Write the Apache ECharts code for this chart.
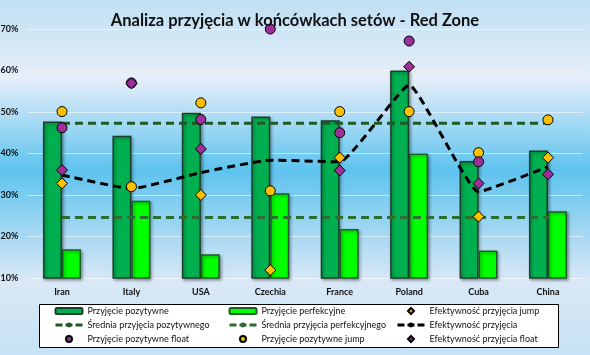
<!DOCTYPE html>
<html>
<head>
<meta charset="utf-8">
<script src="https://cdn.jsdelivr.net/npm/echarts@6/dist/echarts.min.js"></script>
<style>html,body{margin:0;padding:0;}#c{width:590px;height:355px;}</style>
</head>
<body>
<div id="c"></div>
<script>
const categories = ['Iran', 'Italy', 'USA', 'Czechia', 'France', 'Poland', 'Cuba', 'China'];
const yTicks = [10, 20, 30, 40, 50, 60, 70];
const positive = [47.7, 44.3, 49.8, 48.9, 48.0, 60.0, 38.2, 40.7];
const perfect = [16.9, 28.6, 15.7, 30.4, 21.8, 40.0, 16.6, 26.1];
const avgPositive = [47.3, 47.3, 47.3, 47.3, 47.3, 47.3, 47.3, 47.3];
const avgPerfect = [24.6, 24.6, 24.6, 24.6, 24.6, 24.6, 24.6, 24.6];
const efficiency = [34.8, 31.5, 35.4, 38.4, 38.0, 56.5, 30.8, 36.8];
const effJump = [32.8, null, 30.0, 11.9, 39.0, null, 24.8, 39.0];
const posJump = [50.1, 32.0, 52.2, 31.0, 50.1, 50.1, 40.2, 48.1];
const posFloat = [46.2, 57.0, 48.2, 70.0, 45.0, 67.1, 38.0, null];
const effFloat = [36.0, 56.9, 41.1, 70.2, 35.9, 60.9, 32.8, 35.0];

const FONT = 'Lato';
const DIAMOND = 'path://M5,0 L10,5 L5,10 L0,5 Z';
const chart = echarts.init(document.getElementById('c'));
const legendText = { fontFamily: FONT, fontSize: 9, color: '#111', lineHeight: 11 };
const legendBase = {
  orient: 'vertical', top: 305.5, itemWidth: 27, itemHeight: 6, itemGap: 3,
  selectedMode: false, textStyle: legendText, padding: 0, symbolKeepAspect: true,
  lineStyle: { width: 3, type: [7, 3] }
};
chart.setOption({
  animation: false,
  backgroundColor: {
    type: 'linear', x: 0, y: 0, x2: 0, y2: 1,
    colorStops: [
      { offset: 0, color: '#bfe0f3' },
      { offset: 0.22, color: '#e6eef9' },
      { offset: 0.48, color: '#5ec3ee' },
      { offset: 0.79, color: '#d9e8f6' },
      { offset: 1, color: '#c6e2f4' }
    ]
  },
  title: {
    text: 'Analiza przyjęcia w końcówkach setów - Red Zone',
    left: 'center', top: 7,
    textStyle: { fontFamily: FONT, fontWeight: 'bold', fontSize: 16.5, color: '#111' }
  },
  graphic: [{
    type: 'rect', z: 0,
    shape: { x: 39.5, y: 304.5, width: 519, height: 43 },
    style: { fill: '#ffffff', stroke: '#000000', lineWidth: 1 }
  }],
  legend: [
    Object.assign({}, legendBase, { left: 54, data: ['Przyjęcie pozytywne', 'Średnia przyjęcia pozytywnego', { name: 'Przyjęcie pozytywne float', icon: 'circle' }] }),
    Object.assign({}, legendBase, { left: 228, data: ['Przyjęcie perfekcyjne', 'Średnia przyjęcia perfekcyjnego', { name: 'Przyjęcie pozytywne jump', icon: 'circle' }] }),
    Object.assign({}, legendBase, { left: 396, data: [{ name: 'Efektywność przyjęcia jump', icon: DIAMOND }, 'Efektywność przyjęcia', { name: 'Efektywność przyjęcia float', icon: DIAMOND }] })
  ],
  grid: { left: 27.3, right: 7.3, top: 29, bottom: 77, outerBoundsMode: 'none', containLabel: false },
  xAxis: {
    type: 'category', data: categories,
    axisLine: { show: false }, axisTick: { show: false },
    axisLabel: { margin: 10, fontFamily: FONT, fontWeight: 'bold', fontSize: 9, color: '#111' }
  },
  yAxis: {
    type: 'value', min: yTicks[0], max: yTicks[yTicks.length - 1], interval: 10,
    axisLine: { show: false }, axisTick: { show: false },
    axisLabel: { margin: 9, formatter: '{value}%', fontFamily: FONT, fontWeight: 'bold', fontSize: 9, color: '#111' },
    splitLine: { lineStyle: { color: 'rgba(255,255,255,0.55)', width: 1 } }
  },
  series: [
    {
      name: 'Przyjęcie pozytywne', type: 'bar', data: positive, barWidth: 19, barGap: '0%', z: 2,
      itemStyle: { color: '#00b050', borderColor: '#1c3d2a', borderWidth: 1.5,
        shadowBlur: 3, shadowColor: 'rgba(0,0,0,0.35)', shadowOffsetX: 1.5, shadowOffsetY: 1.5 }
    },
    {
      name: 'Przyjęcie perfekcyjne', type: 'bar', data: perfect, barWidth: 19, barGap: '0%', z: 2,
      itemStyle: { color: '#00ff00', borderColor: '#1f5a2a', borderWidth: 1.5,
        shadowBlur: 3, shadowColor: 'rgba(0,0,0,0.35)', shadowOffsetX: 1.5, shadowOffsetY: 1.5 }
    },
    {
      name: 'Średnia przyjęcia pozytywnego', type: 'line', data: avgPositive, symbol: 'none', z: 3,
      itemStyle: { color: '#1d5a26' },
      lineStyle: { color: '#1d5a26', width: 3, type: [8, 5] }
    },
    {
      name: 'Średnia przyjęcia perfekcyjnego', type: 'line', data: avgPerfect, symbol: 'none', z: 3,
      itemStyle: { color: '#2a6e30' },
      lineStyle: { color: '#2a6e30', width: 3, type: [8, 5] }
    },
    {
      name: 'Efektywność przyjęcia', type: 'line', data: efficiency, symbol: 'none', z: 4, smooth: 0.12,
      itemStyle: { color: '#000' },
      lineStyle: { color: '#000', width: 3, type: [8, 5] }
    },
    {
      name: 'Efektywność przyjęcia jump', type: 'scatter', data: effJump, symbol: 'diamond', symbolSize: 11, z: 5,
      itemStyle: { color: '#ffc000', borderColor: '#000', borderWidth: 1, opacity: 1 }
    },
    {
      name: 'Przyjęcie pozytywne jump', type: 'scatter', data: posJump, symbol: 'circle', symbolSize: 10, z: 5,
      itemStyle: { color: '#ffc000', borderColor: '#000', borderWidth: 1, opacity: 1 }
    },
    {
      name: 'Przyjęcie pozytywne float', type: 'scatter', data: posFloat, symbol: 'circle', symbolSize: 10, z: 5,
      itemStyle: { color: '#9c2f98', borderColor: '#000', borderWidth: 1, opacity: 1 }
    },
    {
      name: 'Efektywność przyjęcia float', type: 'scatter', data: effFloat, symbol: 'diamond', symbolSize: 11, z: 5,
      itemStyle: { color: '#9c2f98', borderColor: '#000', borderWidth: 1, opacity: 1 }
    }
  ]
});
</script>
</body>
</html>
